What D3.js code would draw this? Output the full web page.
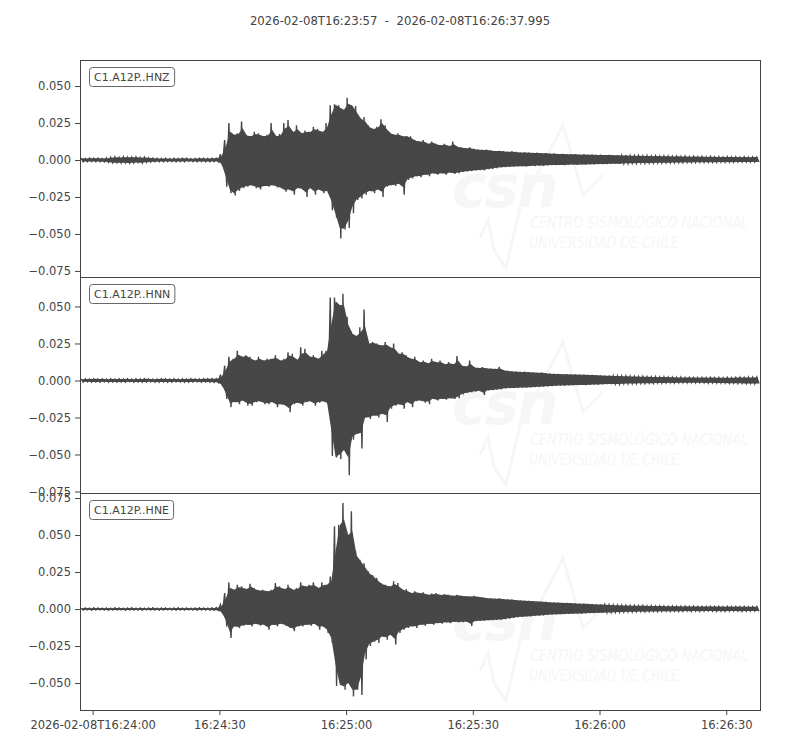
<!DOCTYPE html>
<html>
<head>
<meta charset="utf-8">
<script src="https://cdn.jsdelivr.net/npm/d3@7"></script>
<style>
  body { margin: 0; background: #fff; }
  svg { font-family: "DejaVu Sans", sans-serif; }
</style>
</head>
<body>
<svg id="graph"></svg>
<script>
// trace start / end and bin length (each bin keeps the max and min of the trace)
var startIso = "2026-02-08T16:23:57Z"
var endIso = "2026-02-08T16:26:37.995Z"
var binSeconds = 1

var traceIds = ["C1.A12P..HNZ", "C1.A12P..HNN", "C1.A12P..HNE"]

var hnzHi = [0.0012,0.0010,0.0013,0.0011,0.0012,0.0010,0.0014,0.0018,0.0020,0.0017,
  0.0021,0.0019,0.0018,0.0020,0.0016,0.0019,0.0015,0.0012,0.0011,0.0010,
  0.0012,0.0009,0.0011,0.0010,0.0012,0.0011,0.0009,0.0010,0.0012,0.0011,
  0.0010,0.0012,0.0011,0.0040,0.0135,0.0250,0.0170,0.0180,0.0260,0.0170,
  0.0160,0.0190,0.0180,0.0160,0.0170,0.0250,0.0160,0.0175,0.0250,0.0270,
  0.0190,0.0235,0.0180,0.0200,0.0190,0.0225,0.0210,0.0190,0.0250,0.0370,
  0.0376,0.0370,0.0340,0.0420,0.0370,0.0365,0.0280,0.0290,0.0235,0.0210,
  0.0225,0.0275,0.0235,0.0190,0.0170,0.0180,0.0160,0.0160,0.0160,0.0135,
  0.0125,0.0135,0.0110,0.0125,0.0110,0.0100,0.0110,0.0095,0.0124,0.0090,
  0.0085,0.0080,0.0085,0.0075,0.0070,0.0068,0.0070,0.0065,0.0060,0.0062,
  0.0060,0.0055,0.0058,0.0055,0.0050,0.0052,0.0050,0.0048,0.0050,0.0045,
  0.0047,0.0043,0.0045,0.0040,0.0042,0.0040,0.0038,0.0040,0.0036,0.0038,
  0.0035,0.0037,0.0034,0.0036,0.0033,0.0035,0.0032,0.0033,0.0030,0.0032,
  0.0030,0.0028,0.0030,0.0027,0.0029,0.0026,0.0028,0.0025,0.0027,0.0025,
  0.0024,0.0026,0.0023,0.0025,0.0022,0.0024,0.0022,0.0023,0.0021,0.0023,
  0.0021,0.0022,0.0020,0.0022,0.0020,0.0021,0.0019,0.0021,0.0019,0.0020,
  0.0019]
var hnzLo = [-0.0011,-0.0012,-0.0010,-0.0012,-0.0011,-0.0013,-0.0015,-0.0019,-0.0018,-0.0020,
  -0.0018,-0.0021,-0.0019,-0.0017,-0.0020,-0.0016,-0.0014,-0.0012,-0.0011,-0.0012,
  -0.0010,-0.0011,-0.0012,-0.0010,-0.0011,-0.0009,-0.0011,-0.0012,-0.0010,-0.0011,
  -0.0012,-0.0010,-0.0011,-0.0040,-0.0180,-0.0225,-0.0240,-0.0210,-0.0190,-0.0180,
  -0.0170,-0.0190,-0.0200,-0.0175,-0.0180,-0.0170,-0.0185,-0.0190,-0.0215,-0.0200,
  -0.0235,-0.0190,-0.0200,-0.0250,-0.0190,-0.0235,-0.0200,-0.0225,-0.0210,-0.0340,
  -0.0390,-0.0530,-0.0470,-0.0460,-0.0360,-0.0270,-0.0260,-0.0235,-0.0210,-0.0225,
  -0.0200,-0.0250,-0.0180,-0.0170,-0.0175,-0.0160,-0.0235,-0.0135,-0.0125,-0.0110,
  -0.0117,-0.0100,-0.0110,-0.0090,-0.0100,-0.0090,-0.0100,-0.0085,-0.0095,-0.0090,
  -0.0080,-0.0078,-0.0075,-0.0070,-0.0068,-0.0070,-0.0062,-0.0060,-0.0055,-0.0050,
  -0.0048,-0.0046,-0.0045,-0.0044,-0.0042,-0.0043,-0.0040,-0.0041,-0.0038,-0.0040,
  -0.0036,-0.0035,-0.0034,-0.0033,-0.0034,-0.0032,-0.0031,-0.0033,-0.0030,-0.0031,
  -0.0029,-0.0030,-0.0028,-0.0027,-0.0028,-0.0026,-0.0025,-0.0026,-0.0024,-0.0023,
  -0.0022,-0.0023,-0.0021,-0.0022,-0.0020,-0.0021,-0.0019,-0.0020,-0.0018,-0.0019,
  -0.0018,-0.0017,-0.0018,-0.0016,-0.0017,-0.0016,-0.0015,-0.0016,-0.0015,-0.0016,
  -0.0015,-0.0014,-0.0015,-0.0014,-0.0015,-0.0014,-0.0013,-0.0014,-0.0013,-0.0014,
  -0.0013]

var hnnHi = [0.0009,0.0011,0.0010,0.0012,0.0010,0.0011,0.0009,0.0012,0.0010,0.0011,
  0.0010,0.0012,0.0009,0.0011,0.0010,0.0012,0.0011,0.0009,0.0010,0.0012,
  0.0011,0.0010,0.0012,0.0009,0.0011,0.0010,0.0012,0.0011,0.0010,0.0012,
  0.0011,0.0013,0.0012,0.0040,0.0100,0.0160,0.0146,0.0200,0.0160,0.0170,
  0.0160,0.0135,0.0160,0.0135,0.0146,0.0146,0.0170,0.0135,0.0146,0.0190,
  0.0180,0.0140,0.0225,0.0214,0.0160,0.0170,0.0146,0.0200,0.0200,0.0560,
  0.0560,0.0510,0.0585,0.0430,0.0330,0.0300,0.0360,0.0480,0.0250,0.0260,
  0.0250,0.0236,0.0260,0.0225,0.0250,0.0180,0.0190,0.0170,0.0146,0.0160,
  0.0124,0.0135,0.0117,0.0146,0.0124,0.0135,0.0110,0.0124,0.0110,0.0165,
  0.0105,0.0095,0.0134,0.0090,0.0085,0.0090,0.0082,0.0080,0.0078,0.0093,
  0.0070,0.0065,0.0062,0.0060,0.0058,0.0060,0.0056,0.0055,0.0052,0.0054,
  0.0050,0.0046,0.0044,0.0045,0.0042,0.0043,0.0040,0.0041,0.0039,0.0040,
  0.0038,0.0037,0.0036,0.0034,0.0033,0.0032,0.0031,0.0030,0.0029,0.0030,
  0.0028,0.0027,0.0026,0.0027,0.0025,0.0024,0.0025,0.0023,0.0024,0.0022,
  0.0022,0.0021,0.0022,0.0020,0.0021,0.0020,0.0019,0.0020,0.0019,0.0020,
  0.0019,0.0020,0.0018,0.0020,0.0019,0.0020,0.0021,0.0020,0.0022,0.0021,
  0.0022]
var hnnLo = [-0.0010,-0.0009,-0.0011,-0.0010,-0.0012,-0.0009,-0.0011,-0.0010,-0.0012,-0.0010,
  -0.0011,-0.0009,-0.0012,-0.0010,-0.0011,-0.0010,-0.0009,-0.0012,-0.0011,-0.0010,
  -0.0012,-0.0011,-0.0009,-0.0010,-0.0012,-0.0011,-0.0010,-0.0009,-0.0011,-0.0010,
  -0.0011,-0.0012,-0.0013,-0.0040,-0.0125,-0.0180,-0.0146,-0.0160,-0.0135,-0.0170,
  -0.0170,-0.0146,-0.0140,-0.0160,-0.0160,-0.0146,-0.0180,-0.0160,-0.0170,-0.0214,
  -0.0160,-0.0150,-0.0170,-0.0146,-0.0140,-0.0170,-0.0150,-0.0140,-0.0160,-0.0510,
  -0.0520,-0.0530,-0.0470,-0.0640,-0.0400,-0.0360,-0.0460,-0.0250,-0.0260,-0.0236,
  -0.0250,-0.0225,-0.0280,-0.0190,-0.0170,-0.0160,-0.0190,-0.0146,-0.0180,-0.0140,
  -0.0135,-0.0150,-0.0160,-0.0124,-0.0135,-0.0124,-0.0130,-0.0120,-0.0124,-0.0120,
  -0.0095,-0.0085,-0.0080,-0.0075,-0.0070,-0.0098,-0.0068,-0.0065,-0.0062,-0.0060,
  -0.0054,-0.0052,-0.0050,-0.0050,-0.0048,-0.0049,-0.0046,-0.0045,-0.0044,-0.0042,
  -0.0040,-0.0038,-0.0036,-0.0035,-0.0034,-0.0033,-0.0032,-0.0031,-0.0030,-0.0031,
  -0.0029,-0.0028,-0.0027,-0.0026,-0.0025,-0.0024,-0.0023,-0.0024,-0.0022,-0.0021,
  -0.0020,-0.0021,-0.0019,-0.0020,-0.0018,-0.0019,-0.0017,-0.0018,-0.0017,-0.0016,
  -0.0017,-0.0016,-0.0015,-0.0016,-0.0015,-0.0016,-0.0015,-0.0016,-0.0017,-0.0016,
  -0.0017,-0.0018,-0.0017,-0.0019,-0.0018,-0.0020,-0.0019,-0.0021,-0.0020,-0.0022,
  -0.0021]

var hneHi = [0.0006,0.0007,0.0006,0.0008,0.0007,0.0006,0.0007,0.0006,0.0008,0.0007,
  0.0006,0.0007,0.0008,0.0006,0.0007,0.0006,0.0007,0.0008,0.0006,0.0007,
  0.0007,0.0006,0.0007,0.0008,0.0006,0.0007,0.0006,0.0007,0.0008,0.0007,
  0.0006,0.0008,0.0009,0.0030,0.0108,0.0180,0.0130,0.0164,0.0153,0.0135,
  0.0170,0.0142,0.0126,0.0130,0.0120,0.0130,0.0176,0.0153,0.0135,0.0164,
  0.0130,0.0142,0.0180,0.0153,0.0164,0.0180,0.0142,0.0180,0.0164,0.0220,
  0.0560,0.0570,0.0716,0.0500,0.0660,0.0390,0.0333,0.0310,0.0255,0.0230,
  0.0210,0.0176,0.0164,0.0153,0.0187,0.0176,0.0130,0.0135,0.0108,0.0120,
  0.0108,0.0113,0.0097,0.0104,0.0108,0.0095,0.0100,0.0097,0.0090,0.0097,
  0.0090,0.0088,0.0085,0.0090,0.0082,0.0080,0.0075,0.0072,0.0070,0.0072,
  0.0068,0.0066,0.0064,0.0060,0.0058,0.0056,0.0055,0.0053,0.0051,0.0050,
  0.0048,0.0046,0.0044,0.0043,0.0042,0.0041,0.0040,0.0038,0.0037,0.0036,
  0.0035,0.0033,0.0032,0.0031,0.0030,0.0028,0.0027,0.0026,0.0025,0.0024,
  0.0023,0.0024,0.0022,0.0023,0.0021,0.0022,0.0020,0.0021,0.0020,0.0019,
  0.0020,0.0019,0.0018,0.0019,0.0018,0.0019,0.0017,0.0018,0.0017,0.0018,
  0.0017,0.0018,0.0016,0.0017,0.0016,0.0017,0.0016,0.0017,0.0015,0.0016,
  0.0016]
var hneLo = [-0.0007,-0.0006,-0.0008,-0.0007,-0.0006,-0.0007,-0.0008,-0.0006,-0.0007,-0.0006,
  -0.0008,-0.0007,-0.0006,-0.0007,-0.0008,-0.0006,-0.0007,-0.0006,-0.0008,-0.0007,
  -0.0006,-0.0007,-0.0008,-0.0006,-0.0007,-0.0006,-0.0007,-0.0008,-0.0006,-0.0007,
  -0.0007,-0.0008,-0.0009,-0.0030,-0.0117,-0.0196,-0.0117,-0.0128,-0.0113,-0.0106,
  -0.0117,-0.0099,-0.0113,-0.0106,-0.0140,-0.0106,-0.0117,-0.0099,-0.0113,-0.0128,
  -0.0150,-0.0117,-0.0117,-0.0106,-0.0113,-0.0099,-0.0140,-0.0117,-0.0162,-0.0230,
  -0.0520,-0.0510,-0.0545,-0.0500,-0.0590,-0.0545,-0.0580,-0.0340,-0.0250,-0.0220,
  -0.0230,-0.0185,-0.0207,-0.0173,-0.0240,-0.0162,-0.0140,-0.0128,-0.0117,-0.0128,
  -0.0106,-0.0113,-0.0099,-0.0106,-0.0095,-0.0099,-0.0090,-0.0095,-0.0086,-0.0090,
  -0.0088,-0.0085,-0.0115,-0.0082,-0.0080,-0.0078,-0.0076,-0.0075,-0.0074,-0.0072,
  -0.0068,-0.0065,-0.0060,-0.0056,-0.0053,-0.0050,-0.0049,-0.0047,-0.0045,-0.0043,
  -0.0040,-0.0038,-0.0036,-0.0035,-0.0034,-0.0033,-0.0032,-0.0031,-0.0030,-0.0029,
  -0.0028,-0.0027,-0.0026,-0.0025,-0.0024,-0.0023,-0.0022,-0.0021,-0.0020,-0.0019,
  -0.0019,-0.0018,-0.0017,-0.0018,-0.0017,-0.0016,-0.0017,-0.0016,-0.0015,-0.0016,
  -0.0015,-0.0016,-0.0015,-0.0014,-0.0015,-0.0014,-0.0015,-0.0014,-0.0013,-0.0014,
  -0.0015,-0.0014,-0.0015,-0.0014,-0.0013,-0.0014,-0.0015,-0.0014,-0.0013,-0.0014,
  -0.0014]

// y limits of each panel and the tick values / time ticks
var yLimits = [[-0.0791, 0.0676], [-0.0760, 0.0699], [-0.0682, 0.0784]]
var yTickValues = [-0.075, -0.05, -0.025, 0, 0.025, 0.05, 0.075]
var timeTicks = ["2026-02-08T16:24:00Z", "2026-02-08T16:24:30Z", "2026-02-08T16:25:00Z",
  "2026-02-08T16:25:30Z", "2026-02-08T16:26:00Z", "2026-02-08T16:26:30Z"]

var traces = [
  {id: traceIds[0], hi: hnzHi, lo: hnzLo},
  {id: traceIds[1], hi: hnnHi, lo: hnnLo},
  {id: traceIds[2], hi: hneHi, lo: hneLo}
]

var width = 800
var height = 750
var margins = {left: 80, right: 40}
var panelTops = [60, 277, 493]
var panelBottoms = [277, 493, 710]
var ink = "#444444"
var traceColor = "#474747"
var fontSize = 11.5

var svg = d3.select("svg")
  .attr("width", width)
  .attr("height", height)

var t0 = new Date(startIso)
var xScale = d3.scaleUtc()
  .domain([t0, new Date(endIso)])
  .range([margins.left, width - margins.right])

// title
svg.append("text")
  .attr("x", 400)
  .attr("y", 25)
  .attr("text-anchor", "middle")
  .attr("font-size", 11.7)
  .attr("fill", ink)
  .attr("xml:space", "preserve")
  .text(startIso.replace("Z", "") + "  -  " + endIso.replace("Z", ""))

var binTime = function(i, frac) {
  return new Date(t0.getTime() + (i + frac) * binSeconds * 1000)
}

// faint CSN logo behind each trace
var drawWatermark = function(top) {
  var wm = svg.append("g").attr("transform", "translate(0," + top + ")")
  var c = "#f6f6f6"
  wm.append("text")
    .attr("x", 452).attr("y", 147)
    .attr("font-size", 58).attr("font-weight", "bold").attr("font-style", "italic")
    .attr("fill", c).attr("letter-spacing", -2)
    .text("csn")
  wm.append("polyline")
    .attr("points", "480,178 488,160 494,190 506,208 520,148 563,65 583,135 603,115")
    .attr("fill", "none").attr("stroke", c).attr("stroke-width", 3)
  wm.append("text")
    .attr("x", 530).attr("y", 168)
    .attr("font-size", 16).attr("font-style", "italic")
    .attr("fill", c).attr("textLength", 218).attr("lengthAdjust", "spacingAndGlyphs")
    .text("CENTRO SISMOLÓGICO NACIONAL")
  wm.append("text")
    .attr("x", 529).attr("y", 188)
    .attr("font-size", 16).attr("font-style", "italic")
    .attr("fill", c).attr("textLength", 150).attr("lengthAdjust", "spacingAndGlyphs")
    .text("UNIVERSIDAD DE CHILE")
}

traces.forEach(function(tr, k) {
  var top = panelTops[k]
  var bottom = panelBottoms[k]
  var yScale = d3.scaleLinear()
    .domain(yLimits[k])
    .range([bottom, top])

  drawWatermark(top)

  var clipId = "clip" + k
  svg.append("clipPath").attr("id", clipId)
    .append("rect")
    .attr("x", margins.left).attr("y", top)
    .attr("width", width - margins.right - margins.left)
    .attr("height", bottom - top)

  var g = svg.append("g").attr("clip-path", "url(#" + clipId + ")")

  // min/max bins: a solid inner band plus a zigzag through every bin's
  // max and min, so the bin extremes stick out as spikes
  var n = tr.hi.length
  var bins = tr.hi.map(function(h, i) {
    var a = Math.max(0, i - 1), b = Math.min(n - 1, i + 1)
    return {
      i: i,
      hi: h,
      lo: tr.lo[i],
      inHi: (Math.min(tr.hi[a], h, tr.hi[b]) + h) / 2,
      inLo: (Math.max(tr.lo[a], tr.lo[i], tr.lo[b]) + tr.lo[i]) / 2
    }
  })
  var area = d3.area()
    .x(function(d) { return xScale(binTime(d.i, 0.5)) })
    .y0(function(d) { return yScale(d.inLo) })
    .y1(function(d) { return yScale(d.inHi) })
  g.append("path")
    .datum(bins)
    .attr("d", area)
    .attr("fill", traceColor)

  var zig = []
  bins.forEach(function(d) {
    zig.push([binTime(d.i, 0.25), d.hi])
    zig.push([binTime(d.i, 0.75), d.lo])
  })
  var line = d3.line()
    .x(function(d) { return xScale(d[0]) })
    .y(function(d) { return yScale(d[1]) })
  g.append("path")
    .datum(zig)
    .attr("d", line)
    .attr("fill", "none")
    .attr("stroke", traceColor)
    .attr("stroke-width", 1.4)

  // y axis
  var ticks = yTickValues.filter(function(v) { return v >= yLimits[k][0] && v <= yLimits[k][1] })
  var yAxis = d3.axisLeft(yScale)
    .tickValues(ticks)
    .tickFormat(d3.format(".3f"))
    .tickSize(5)
    .tickSizeOuter(0)
    .tickPadding(4)
  var ya = svg.append("g")
    .attr("transform", "translate(" + margins.left + ",0)")
    .call(yAxis)
  ya.select(".domain").remove()
  ya.selectAll("line").attr("stroke", ink)
  ya.selectAll("text").attr("fill", ink).attr("font-size", fontSize)
    .attr("font-family", "DejaVu Sans")

  // frame
  svg.append("rect")
    .attr("x", margins.left + 0.5).attr("y", top + 0.5)
    .attr("width", width - margins.right - margins.left)
    .attr("height", bottom - top)
    .attr("fill", "none")
    .attr("stroke", ink)
    .attr("stroke-width", 1)

  // trace label box
  var lab = svg.append("g")
  var txt = lab.append("text")
    .attr("x", 94).attr("y", top + 21)
    .attr("font-size", 11)
    .attr("fill", ink)
    .text(tr.id)
  var bb = txt.node().getBBox()
  lab.insert("rect", "text")
    .attr("x", bb.x - 4.5).attr("y", top + 7.5)
    .attr("width", bb.width + 9).attr("height", 19)
    .attr("rx", 3)
    .attr("fill", "#fff")
    .attr("stroke", "#666")
    .attr("stroke-width", 1)
})

// time axis under the last panel
var fullFmt = d3.utcFormat("%Y-%m-%dT%H:%M:%S")
var shortFmt = d3.utcFormat("%H:%M:%S")
var tickDates = timeTicks.map(function(s) { return new Date(s) })
var xAxis = d3.axisBottom(xScale)
  .tickValues(tickDates)
  .tickFormat(function(d, i) { return i === 0 ? fullFmt(d) : shortFmt(d) })
  .tickSize(5)
  .tickSizeOuter(0)
  .tickPadding(6)
var xa = svg.append("g")
  .attr("transform", "translate(0," + panelBottoms[2] + ")")
  .call(xAxis)
xa.select(".domain").remove()
xa.selectAll("line").attr("stroke", ink)
xa.selectAll("text").attr("fill", ink).attr("font-size", fontSize)
  .attr("font-family", "DejaVu Sans")
</script>
</body>
</html>
